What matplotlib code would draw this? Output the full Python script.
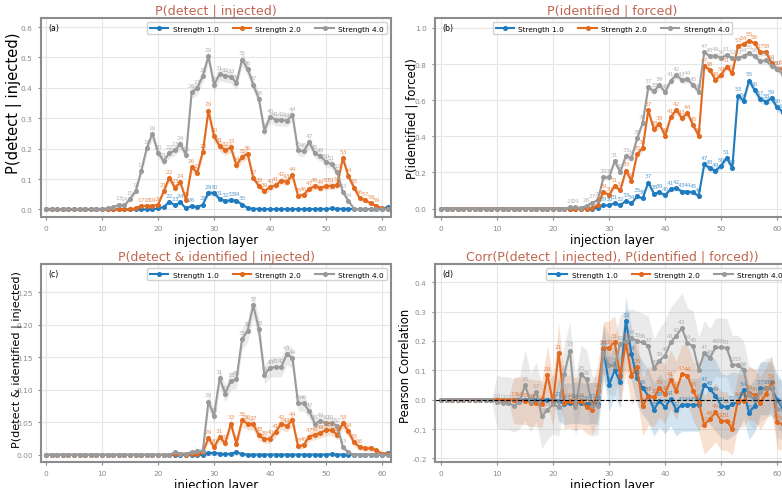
import numpy as np
import matplotlib
matplotlib.use("Agg")
import matplotlib.pyplot as plt
from matplotlib.textpath import TextPath

# layers 0..61
layers = list(range(62))
strengths = ["Strength 1.0", "Strength 2.0", "Strength 4.0"]
colors = ["#1f7bbd", "#e2691d", "#9a9a9a"]
title_color = "#c0664f"

# (a) P(detect | injected)
a_s1 = [0, 0, 0, 0, 0, 0, 0, 0, 0, 0, 0, 0, 0, 0, 0, 0, 0, 0, 0, 0,
        0.003, 0.008, 0.025, 0.014, 0.023, 0.003, 0.012, 0.007, 0.016, 0.055,
        0.054, 0.034, 0.028, 0.030, 0.029, 0.016, 0.005, 0.002, 0.002, 0.001,
        0.001, 0.001, 0.001, 0.001, 0.001, 0.001, 0.001, 0.001, 0.001, 0.002,
        0.001, 0.003, 0.002, 0.002, 0.002, 0.001, 0.001, 0.001, 0.001, 0.001,
        0.001, 0.008]
a_s2 = [0, 0, 0, 0, 0, 0, 0, 0, 0, 0, 0, 0, 0, 0, 0, 0,
        0.004, 0.012, 0.012, 0.012, 0.015, 0.059, 0.104, 0.072, 0.089, 0.031,
        0.139, 0.121, 0.190, 0.325, 0.240, 0.209, 0.195, 0.204, 0.145, 0.173,
        0.183, 0.104, 0.078, 0.060, 0.073, 0.079, 0.095, 0.091, 0.113, 0.045,
        0.048, 0.068, 0.076, 0.071, 0.076, 0.078, 0.080, 0.169, 0.109, 0.072,
        0.037, 0.030, 0.020, 0.011, 0.004, 0.002]
a_s4 = [0, 0, 0, 0, 0, 0, 0, 0, 0, 0, 0,
        0.005, 0.007, 0.016, 0.013, 0.035, 0.060, 0.126, 0.203, 0.249, 0.186,
        0.159, 0.185, 0.194, 0.214, 0.180, 0.386, 0.399, 0.440, 0.504, 0.410,
        0.445, 0.440, 0.436, 0.417, 0.493, 0.462, 0.411, 0.364, 0.259, 0.305,
        0.295, 0.295, 0.292, 0.311, 0.194, 0.191, 0.221, 0.185, 0.175, 0.157,
        0.148, 0.123, 0.057, 0.028, 0.002, 0, 0, 0, 0, 0, 0]

# (b) P(identified | forced)
b_s1 = [0, 0, 0, 0, 0, 0, 0, 0, 0, 0, 0, 0, 0, 0, 0, 0, 0, 0, 0, 0,
        0, 0, 0, 0, 0, 0, 0, 0,
        0.004, 0.018, 0.017, 0.030, 0.018, 0.042, 0.028, 0.067, 0.057, 0.144,
        0.083, 0.089, 0.074, 0.107, 0.113, 0.094, 0.094, 0.089, 0.070, 0.246,
        0.222, 0.209, 0.237, 0.281, 0.224, 0.625, 0.597, 0.708, 0.655, 0.606,
        0.591, 0.610, 0.560, 0.536]
b_s2 = [0, 0, 0, 0, 0, 0, 0, 0, 0, 0, 0, 0, 0, 0, 0, 0, 0, 0, 0, 0,
        0, 0, 0, 0, 0, 0, 0,
        0.003, 0.020, 0.092, 0.074, 0.126, 0.100, 0.210, 0.153, 0.300, 0.336,
        0.543, 0.440, 0.468, 0.403, 0.505, 0.547, 0.500, 0.529, 0.462, 0.403,
        0.791, 0.767, 0.712, 0.740, 0.786, 0.750, 0.898, 0.911, 0.930, 0.914,
        0.865, 0.867, 0.804, 0.773, 0.775]
b_s4 = [0, 0, 0, 0, 0, 0, 0, 0, 0, 0, 0, 0, 0, 0, 0, 0, 0, 0, 0, 0,
        0, 0, 0,
        0.006, 0.006, 0.004, 0.015, 0.033, 0.046, 0.172, 0.172, 0.262, 0.203,
        0.292, 0.279, 0.388, 0.473, 0.671, 0.649, 0.684, 0.645, 0.708, 0.738,
        0.712, 0.715, 0.684, 0.647, 0.865, 0.843, 0.847, 0.834, 0.850, 0.832,
        0.832, 0.843, 0.860, 0.843, 0.815, 0.820, 0.790, 0.773, 0.745]

# (c) P(detect & identified | injected)
c_s1 = [0, 0, 0, 0, 0, 0, 0, 0, 0, 0, 0, 0, 0, 0, 0, 0, 0, 0, 0, 0,
        0, 0, 0, 0, 0, 0, 0, 0, 0,
        0.003, 0.003, 0.002, 0.001, 0.002, 0.004, 0.001, 0.0005, 0.0005,
        0.0005, 0.0005, 0.0005, 0.0005, 0.0005, 0.0005, 0.0005, 0.0005,
        0.0005, 0.0005, 0.0005, 0.0005, 0.0005, 0.001, 0.0005, 0.0005,
        0.0005, 0.0005, 0.0005, 0.0005, 0.0005, 0.0005, 0.0005, 0.003]
c_s2 = [0, 0, 0, 0, 0, 0, 0, 0, 0, 0, 0, 0, 0, 0, 0, 0, 0, 0, 0, 0,
        0, 0, 0,
        0.001, 0.001, 0.000, 0.001, 0.001, 0.004, 0.026, 0.012, 0.027, 0.018,
        0.048, 0.017, 0.053, 0.048, 0.047, 0.030, 0.024, 0.025, 0.035, 0.048,
        0.044, 0.054, 0.013, 0.015, 0.028, 0.031, 0.034, 0.038, 0.038, 0.031,
        0.049, 0.036, 0.019, 0.012, 0.010, 0.010, 0.007, 0.002, 0.002]
c_s4 = [0, 0, 0, 0, 0, 0, 0, 0, 0, 0, 0, 0, 0, 0, 0, 0, 0, 0, 0, 0,
        0, 0, 0,
        0.004, 0.002, 0.002, 0.004, 0.006, 0.006, 0.082, 0.060, 0.118, 0.094,
        0.114, 0.116, 0.178, 0.191, 0.230, 0.194, 0.123, 0.134, 0.135, 0.135,
        0.155, 0.149, 0.079, 0.079, 0.067, 0.048, 0.052, 0.049, 0.049, 0.044,
        0.012, 0.004, 0, 0, 0, 0, 0, 0, 0]

# (d) Pearson correlation and band half-widths
d_s1 = [0, 0, 0, 0, 0, 0, 0, 0, 0, 0, 0, 0, 0, 0, 0, 0, 0, 0, 0, 0, 0,
        -0.003, -0.015, -0.012, -0.010, -0.012, -0.015, -0.010, -0.015,
        0.173, 0.051, 0.100, 0.061, 0.269, 0.156, 0.073, 0.040, 0.014, -0.034,
        -0.003, -0.026, 0.002, -0.034, -0.017, -0.017, -0.017, -0.017, 0.051,
        0.036, 0.014, -0.020, -0.026, -0.015, -0.009, 0.034, -0.045, -0.020,
        0.039, 0.039, 0.039, 0.000, -0.030]
d_s2 = [0, 0, 0, 0, 0, 0, 0, 0, 0, 0, 0, 0, 0,
        -0.002, -0.003, -0.005, -0.010, -0.012, -0.015, 0.085, -0.010, 0.160,
        -0.010, -0.005, -0.015, -0.005, -0.025, -0.035, 0.030, 0.175, 0.177,
        0.197, 0.080, 0.195, 0.082, 0.110, -0.023, 0.014, 0.008, 0.039, 0.019,
        0.068, 0.031, 0.088, 0.082, 0.031, -0.009, -0.085, -0.066, -0.043,
        -0.072, -0.072, -0.100, -0.003, -0.003, 0.023, 0.016, -0.011, 0.019,
        0.061, -0.077, -0.083]
d_s4 = [0, 0, 0, 0, 0, 0, 0, 0, 0, 0,
        -0.007, -0.011, -0.011, -0.020, -0.009, 0.050, -0.009, 0.027, -0.056,
        -0.035, -0.015, -0.025, 0.087, 0.167, -0.026, 0.086, 0.069, -0.020,
        -0.020, 0.160, 0.118, 0.115, 0.190, 0.200, 0.210, 0.200, 0.195, 0.184,
        0.107, 0.133, 0.150, 0.195, 0.218, 0.243, 0.193, 0.182, 0.102, 0.160,
        0.142, 0.178, 0.178, 0.177, 0.119, 0.119, 0.102, 0.015, 0.000, 0.025,
        0.040, 0.045, -0.030, -0.035]
d_s1_err = [0, 0, 0, 0, 0, 0, 0, 0, 0, 0, 0, 0, 0, 0, 0, 0, 0, 0, 0, 0, 0,
            0.07, 0.07, 0.07, 0.07, 0.07, 0.07, 0.07, 0.07,
            0.08, 0.09, 0.09, 0.09, 0.08, 0.09, 0.09, 0.09, 0.09, 0.09,
            0.09, 0.09, 0.09, 0.09, 0.09, 0.09, 0.09, 0.09, 0.12,
            0.12, 0.12, 0.11, 0.11, 0.11, 0.10, 0.10, 0.09, 0.09,
            0.09, 0.09, 0.09, 0.09, 0.09]
d_s2_err = [0, 0, 0, 0, 0, 0, 0, 0, 0, 0, 0, 0, 0,
            0.08, 0.08, 0.08, 0.08, 0.08, 0.08, 0.10, 0.08, 0.10,
            0.09, 0.09, 0.09, 0.09, 0.09, 0.09, 0.09, 0.09, 0.09,
            0.09, 0.10, 0.10, 0.10, 0.10, 0.10, 0.10, 0.10, 0.10, 0.10,
            0.10, 0.10, 0.10, 0.10, 0.10, 0.10, 0.10, 0.10, 0.10,
            0.10, 0.10, 0.09, 0.09, 0.09, 0.09, 0.09, 0.09, 0.09,
            0.09, 0.09, 0.09]
d_s4_err = [0, 0, 0, 0, 0, 0, 0, 0, 0, 0,
            0.09, 0.09, 0.09, 0.09, 0.09, 0.12, 0.10, 0.10, 0.11,
            0.10, 0.10, 0.10, 0.10, 0.10, 0.10, 0.10, 0.10, 0.10,
            0.10, 0.10, 0.10, 0.10, 0.10, 0.10, 0.10, 0.10, 0.10, 0.10,
            0.10, 0.11, 0.12, 0.12, 0.12, 0.12, 0.12, 0.12, 0.11, 0.11,
            0.10, 0.10, 0.10, 0.10, 0.10, 0.10, 0.10, 0.10, 0.10, 0.10,
            0.10, 0.10, 0.10, 0.10]

panels = [
    dict(key="(a)", title="P(detect | injected)", ylabel="P(detect | injected)",
         series=[a_s1, a_s2, a_s4], ylim=(-0.025, 0.63), yticks=np.arange(0, 0.61, 0.1),
         fmt="{:.1f}", loc="upper right", thr=0.01),
    dict(key="(b)", title="P(identified | forced)", ylabel="P(identified | forced)",
         series=[b_s1, b_s2, b_s4], ylim=(-0.047, 1.055), yticks=np.arange(0, 1.01, 0.2),
         fmt="{:.1f}", loc="upper center", thr=0.005),
    dict(key="(c)", title="P(detect & identified | injected)",
         ylabel="P(detect & identified | injected)",
         series=[c_s1, c_s2, c_s4], ylim=(-0.011, 0.2935), yticks=np.arange(0, 0.26, 0.05),
         fmt="{:.2f}", loc="upper right", thr=0.011),
    dict(key="(d)", title="Corr(P(detect | injected), P(identified | forced))",
         ylabel="Pearson Correlation",
         series=[d_s1, d_s2, d_s4], ylim=(-0.212, 0.462), yticks=np.arange(-0.2, 0.41, 0.1),
         fmt="{:.1f}", loc="upper right", thr=0.001,
         errs=[d_s1_err, d_s2_err, d_s4_err]),
]

W, H = 782, 489
fig = plt.figure(figsize=(W / 100, H / 100), dpi=100)

# axes boxes in pixels: left, top, right, bottom
boxes = [(41, 19, 391, 218), (435, 19, 790, 218),
         (41, 265, 391, 463), (435, 265, 790, 463)]
xlims = [(-0.9, 61.6), (-1.07, 62.3), (-0.9, 61.6), (-1.07, 62.3)]
# text lengths in the picture (px): title, ylabel ; ylabel anchor (right edge px, centre y px)
title_px = [118, 127, 194, 290]
ylabel_px = [138, 118, 175, 112]
ylabel_pos = [(22, 103), (418, 119), (22, 360), (412, 366)]
xlabel_px = 82


def fit_size(text, target_px):
    w = TextPath((0, 0), text, size=10).get_extents().width
    return 10 * target_px / (w * 100 / 72)


n_samples = 2000

for k, (p, box, xl) in enumerate(zip(panels, boxes, xlims)):
    l, t, r, b = box
    ax = fig.add_axes([l / W, (H - b) / H, (r - l) / W, (b - t) / H])
    ax.set_facecolor("white")
    ax.grid(True, color="#e6e6e6", lw=0.8)
    ax.set_axisbelow(True)
    x = np.array(layers)
    for i, (vals, c, lab) in enumerate(zip(p["series"], colors, strengths)):
        v = np.array(vals, dtype=float)
        if "errs" in p:
            e = np.array(p["errs"][i])
        else:
            e = 1.96 * np.sqrt(np.clip(v * (1 - v), 0, None) / n_samples)
        ax.fill_between(x, v - e, v + e, color=c, alpha=0.2, lw=0)
        ax.plot(x, v, "-o", color=c, lw=1.5, ms=2.6, label=lab)
        for xi, vi in zip(x, v):
            if abs(vi) > p["thr"]:
                ax.annotate(str(xi), (xi, vi), xytext=(0, 3), textcoords="offset points",
                            ha="center", va="bottom", fontsize=4.2, color=c, alpha=0.7)
    if p["key"] == "(d)":
        ax.axhline(0, color="black", ls="--", lw=0.8)
    ax.set_xlim(*xl)
    ax.set_ylim(*p["ylim"])
    ax.set_xticks(range(0, 61, 10))
    ax.set_yticks(p["yticks"])
    ax.set_yticklabels([p["fmt"].format(v) for v in p["yticks"]])
    ax.tick_params(labelsize=5.3, colors="#8a8a8a", length=2.5, width=0.8)
    for s in ax.spines.values():
        s.set_color("#8c8c8c")
        s.set_linewidth(1.5)
    ax.set_title(p["title"], color=title_color, fontsize=fit_size(p["title"], title_px[k]), pad=3)
    ax.set_ylabel(p["ylabel"], fontsize=fit_size(p["ylabel"], ylabel_px[k]))
    yx, yy = ylabel_pos[k]
    ax.yaxis.set_label_coords((yx - l) / (r - l), (b - yy) / (b - t))
    ax.set_xlabel("injection layer", fontsize=fit_size("injection layer", xlabel_px), labelpad=1)
    ax.text(0.02, 0.975, p["key"], transform=ax.transAxes, fontsize=5.7,
            va="top", ha="left")
    ax.legend(loc=p["loc"], ncol=3, fontsize=5.3, frameon=True, framealpha=0.9,
              edgecolor="#cccccc", handlelength=2.5, handletextpad=0.55,
              columnspacing=1.95, borderpad=0.4, borderaxespad=0.6)

fig.savefig("out.png", dpi=100)
